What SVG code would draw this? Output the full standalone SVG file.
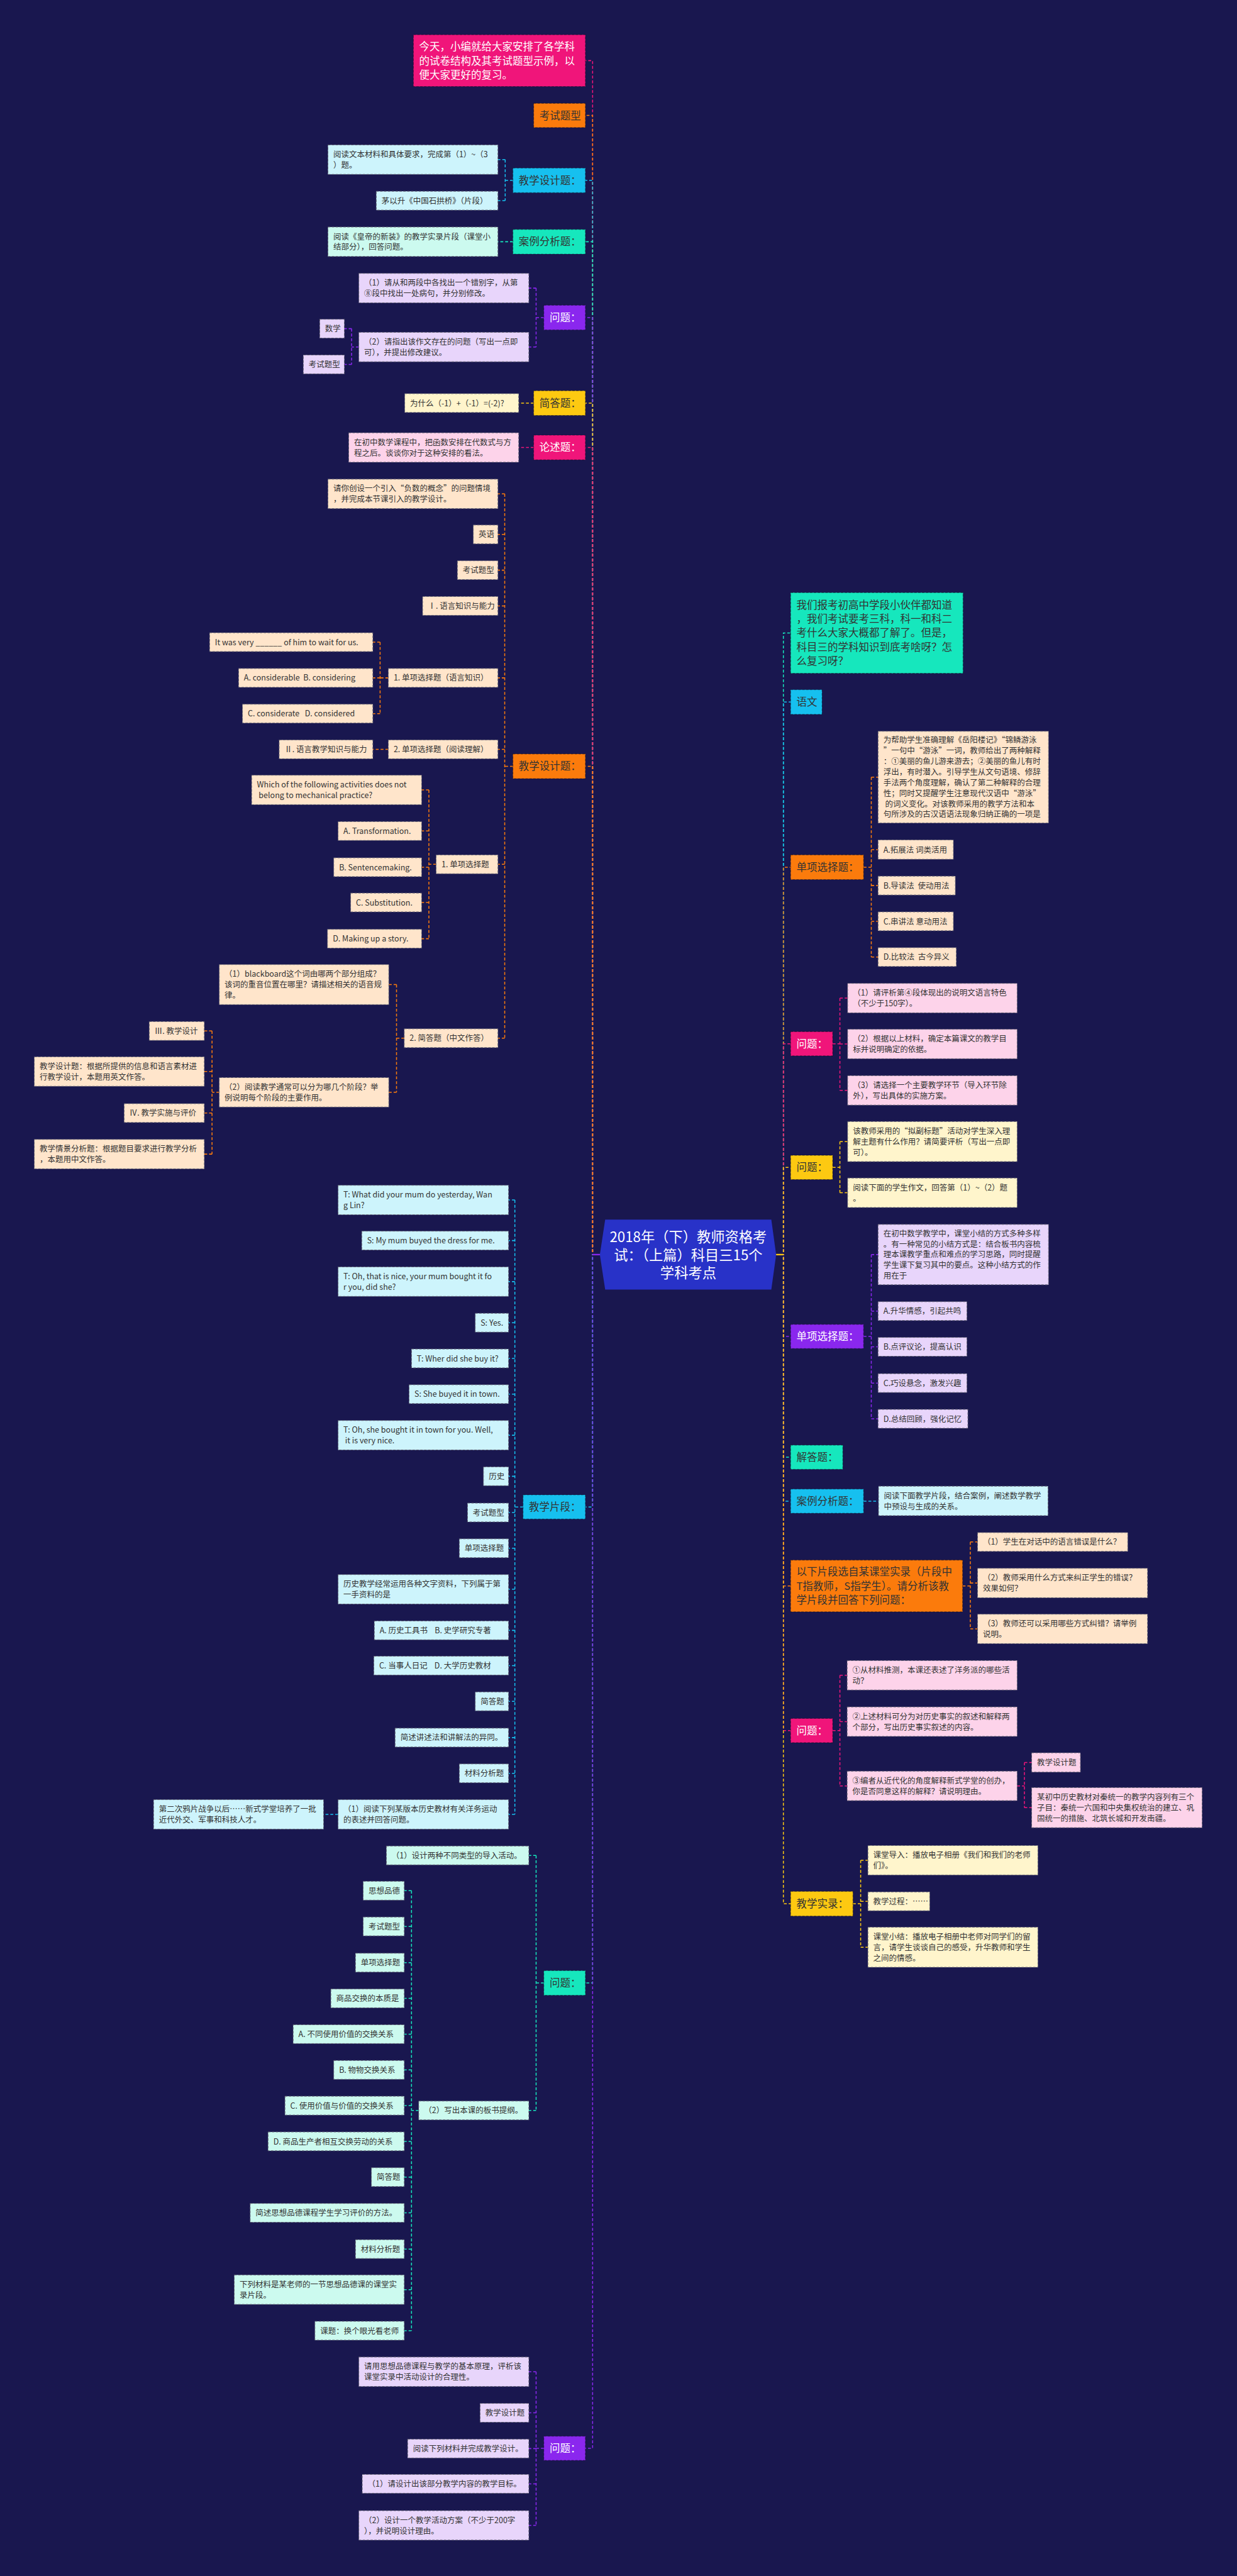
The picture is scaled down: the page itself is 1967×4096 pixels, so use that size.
<svg xmlns="http://www.w3.org/2000/svg" width="1967" height="4096" viewBox="0 0 1967 4096">
<style>
text{font-family:"Noto Sans CJK SC","Noto Sans",sans-serif;white-space:pre}
.s{font-size:16.3px;fill:#333}
.m{font-size:21.5px;fill:#333}
.w{fill:#fff}
.b{stroke:#5f5f70;stroke-width:1.3;stroke-dasharray:5 3}
.b1{stroke:rgba(0,0,0,.35);stroke-width:1.5;stroke-dasharray:5 3}
.P{fill:#f0157a}.O{fill:#fb7b0c}.C{fill:#16c0ef}.T{fill:#16e7bd}.U{fill:#8a27ee}.Y{fill:#fdc911}
.lp{fill:#fdd3ea}.lo{fill:#ffe5cb}.lc{fill:#cdf4fc}.lt{fill:#ccfaef}.lu{fill:#e8d5fb}.ly{fill:#fff5cc}
.k{fill:none;stroke-width:2;stroke-dasharray:6 4}
.kP{stroke:#f0157a}.kO{stroke:#fb7b0c}.kC{stroke:#16c0ef}.kT{stroke:#16e7bd}.kU{stroke:#8a27ee}.kY{stroke:#fdc911}
</style>
<rect width="1967" height="4096" fill="#19174f"/>
<g transform="scale(0.768)">
<g id="connectors">
<path class="k kP" d="M1242 2597.5H1227V125.5H1212"/>
<path class="k kO" d="M1242 2597.5H1227V239H1212"/>
<path class="k kC" d="M1242 2597.5H1227V373.5H1212"/>
<path class="k kT" d="M1242 2597.5H1227V500.5H1212"/>
<path class="k kU" d="M1242 2597.5H1227V657.5H1212"/>
<path class="k kY" d="M1242 2597.5H1227V834.5H1212"/>
<path class="k kP" d="M1242 2597.5H1227V926.5H1212"/>
<path class="k kO" d="M1242 2597.5H1227V1586.5H1212"/>
<path class="k kC" d="M1242 2597.5H1227V3120H1212"/>
<path class="k kT" d="M1242 2597.5H1227V4105.5H1212"/>
<path class="k kU" d="M1242 2597.5H1227V5069H1212"/>
<path class="k kT" d="M1607 2597.5H1622V1310.5H1637"/>
<path class="k kC" d="M1607 2597.5H1622V1453.5H1637"/>
<path class="k kO" d="M1607 2597.5H1622V1795.5H1637"/>
<path class="k kP" d="M1607 2597.5H1622V2161H1637"/>
<path class="k kY" d="M1607 2597.5H1622V2417H1637"/>
<path class="k kU" d="M1607 2597.5H1622V2767H1637"/>
<path class="k kT" d="M1607 2597.5H1622V3017H1637"/>
<path class="k kC" d="M1607 2597.5H1622V3108H1637"/>
<path class="k kO" d="M1607 2597.5H1622V3283.5H1637"/>
<path class="k kP" d="M1607 2597.5H1622V3583H1637"/>
<path class="k kY" d="M1607 2597.5H1622V3941.5H1637"/>
<path d="M1227 2597.5H1242" stroke="#8a27ee" stroke-width="3"/>
<path d="M1607 2597.5H1622" stroke="#fdc911" stroke-width="3"/>
<path class="k kC" d="M1062 373.5H1046M1046 330.5V415.5M1046 330.5H1031M1046 415.5H1031"/>
<path class="k kT" d="M1062 500.5H1031"/>
<path class="k kU" d="M1126 657.5H1110M1110 596.5V718.5M1110 596.5H1095M1110 718.5H1095M743 718.5H728M728 680.5V754.5M728 680.5H713M728 754.5H713"/>
<path class="k kY" d="M1105 834.5H1074"/>
<path class="k kP" d="M1105 926.5H1074"/>
<path class="k kO" d="M1062 1586.5H1045M1045 1022.5V2149.5M1045 1022.5H1031M1045 1106.5H1031M1045 1180.5H1031M1045 1254.5H1031M1045 1403.5H1031M1045 1551.5H1031M1045 1789.5H1031M1045 2149.5H1031"/>
<path class="k kO" d="M804 1403.5H787M787 1329.5V1477.5M787 1329.5H772M787 1403.5H772M787 1477.5H772M804 1551.5H772"/>
<path class="k kO" d="M903 1789.5H888M888 1635.5V1943.5M888 1635.5H873M888 1720.5H873M888 1795.5H873M888 1868.5H873M888 1943.5H873"/>
<path class="k kO" d="M837 2149.5H821M821 2038.5V2261.5M821 2038.5H805M821 2261.5H805"/>
<path class="k kO" d="M454 2261.5H439M439 2134.5V2389.5M439 2134.5H423M439 2218.5H423M439 2304.5H423M439 2389.5H423"/>
<path class="k kC" d="M1083 3120H1066M1066 2484.5V3756.5M1066 2484.5H1053M1066 2568.5H1053M1066 2653.5H1053M1066 2738.5H1053M1066 2812.5H1053M1066 2886.5H1053M1066 2971.5H1053M1066 3056.5H1053M1066 3131.5H1053M1066 3205.5H1053M1066 3290.5H1053M1066 3375.5H1053M1066 3448.5H1053M1066 3522.5H1053M1066 3597.5H1053M1066 3671.5H1053M1066 3756.5H1053M700 3756.5H670"/>
<path class="k kT" d="M1126 4105.5H1110M1110 3841.5V4369.5M1110 3841.5H1095M1110 4369.5H1095"/>
<path class="k kT" d="M867 4369.5H852M852 3914.5V4825.5M852 3914.5H837M852 3988.5H837M852 4063.5H837M852 4137.5H837M852 4211.5H837M852 4285.5H837M852 4359.5H837M852 4433.5H837M852 4507.5H837M852 4581.5H837M852 4656.5H837M852 4740.5H837M852 4825.5H837"/>
<path class="k kU" d="M1126 5069H1110M1110 4910.5V5228.5M1110 4910.5H1095M1110 4995.5H1095M1110 5069.5H1095M1110 5142.5H1095M1110 5228.5H1095"/>
<path class="k kO" d="M1788 1795.5H1804M1804 1609V1981.5M1804 1609H1818M1804 1759H1818M1804 1833.5H1818M1804 1907.5H1818M1804 1981.5H1818"/>
<path class="k kP" d="M1724 2161H1739M1739 2066.5V2257.5M1739 2066.5H1755M1739 2161.5H1755M1739 2257.5H1755"/>
<path class="k kY" d="M1724 2417H1739M1739 2363.5V2469.5M1739 2363.5H1755M1739 2469.5H1755"/>
<path class="k kU" d="M1788 2767H1804M1804 2597.5V2937.5M1804 2597.5H1818M1804 2714.5H1818M1804 2788.5H1818M1804 2863.5H1818M1804 2937.5H1818"/>
<path class="k kC" d="M1788 3108H1819"/>
<path class="k kO" d="M1993 3283.5H2009M2009 3192.5V3372.5M2009 3192.5H2024M2009 3277.5H2024M2009 3372.5H2024"/>
<path class="k kP" d="M1724 3583H1739M1739 3468.5V3697.5M1739 3468.5H1754M1739 3564.5H1754M1739 3697.5H1754M2106 3697.5H2121M2121 3649V3742.5M2121 3649H2136M2121 3742.5H2136"/>
<path class="k kY" d="M1766 3941.5H1782M1782 3851.5V4031.5M1782 3851.5H1797M1782 3936.5H1797M1782 4031.5H1797"/>
</g>

<g id="center"><polygon points="1242,2597.5 1253,2525 1597,2525 1607,2597.5 1597,2670 1253,2670" fill="#2832c8"/><text font-size="29" fill="#fff" text-anchor="middle" style="font-family:'Noto Sans CJK SC',sans-serif"><tspan x="1425" y="2571">2018年（下）教师资格考</tspan><tspan x="1425" y="2609">试：（上篇）科目三15个</tspan><tspan x="1425" y="2646">学科考点</tspan></text></g>

<g id="n-intro"><rect class="b1 P" x="856" y="72" width="356" height="107"/><text class="m w"><tspan x="868" y="104.5">今天，小编就给大家安排了各学科</tspan><tspan x="868" y="133.5">的试卷结构及其考试题型示例，以</tspan><tspan x="868" y="162.5">便大家更好的复习。</tspan></text></g>
<g id="n-kstx"><rect class="b1 O" x="1105" y="214" width="107" height="50"/><text class="m" x="1117" y="247">考试题型</text></g>

<g id="n-jxsj1"><rect class="b1 C" x="1062" y="348" width="150" height="51"/><text class="m" x="1074" y="381">教学设计题：</text></g>
<g id="n-jxsj1-a"><rect class="b lc" x="679" y="300" width="352" height="61"/><text class="s"><tspan x="690" y="325.5">阅读文本材料和具体要求，完成第（1）~（3</tspan><tspan x="690" y="347.5">）题。</tspan></text></g>
<g id="n-jxsj1-b"><rect class="b lc" x="779" y="396" width="252" height="39"/><text class="s" x="790" y="421.5">茅以升《中国石拱桥》（片段）</text></g>

<g id="n-alfx1"><rect class="b1 T" x="1062" y="475" width="150" height="51"/><text class="m" x="1074" y="508">案例分析题：</text></g>
<g id="n-alfx1-a"><rect class="b lt" x="679" y="470" width="352" height="61"/><text class="s"><tspan x="690" y="495.5">阅读《皇帝的新装》的教学实录片段（课堂小</tspan><tspan x="690" y="517.5">结部分），回答问题。</tspan></text></g>

<g id="n-wt1"><rect class="b1 U" x="1126" y="632" width="86" height="51"/><text class="m w" x="1138" y="665">问题：</text></g>
<g id="n-wt1-a"><rect class="b lu" x="743" y="566" width="352" height="61"/><text class="s"><tspan x="754" y="591.5">（1）请从和两段中各找出一个错别字，从第</tspan><tspan x="754" y="613.5">⑧段中找出一处病句，并分别修改。</tspan></text></g>
<g id="n-wt1-b"><rect class="b lu" x="743" y="688" width="352" height="61"/><text class="s"><tspan x="754" y="713.5">（2）请指出该作文存在的问题（写出一点即</tspan><tspan x="754" y="735.5">可），并提出修改建议。</tspan></text></g>
<g id="n-wt1-b1"><rect class="b lu" x="662" y="661" width="51" height="39"/><text class="s" x="673" y="686.5">数学</text></g>
<g id="n-wt1-b2"><rect class="b lu" x="628" y="735" width="85" height="39"/><text class="s" x="639" y="760.5">考试题型</text></g>

<g id="n-jdt1"><rect class="b1 Y" x="1105" y="809" width="107" height="51"/><text class="m" x="1117" y="842">简答题：</text></g>
<g id="n-jdt1-a"><rect class="b ly" x="838" y="815" width="236" height="39"/><text class="s" x="849" y="840.5">为什么（-1）+（-1）=(-2)?</text></g>

<g id="n-lst"><rect class="b1 P" x="1105" y="901" width="107" height="51"/><text class="m w" x="1117" y="934">论述题：</text></g>
<g id="n-lst-a"><rect class="b lp" x="722" y="896" width="352" height="61"/><text class="s"><tspan x="733" y="921.5">在初中数学课程中，把函数安排在代数式与方</tspan><tspan x="733" y="943.5">程之后。谈谈你对于这种安排的看法。</tspan></text></g>

<g id="n-jxsj2"><rect class="b1 O" x="1062" y="1561" width="150" height="51"/><text class="m" x="1074" y="1594">教学设计题：</text></g>
<g id="n-jxsj2-a"><rect class="b lo" x="679" y="992" width="352" height="61"/><text class="s"><tspan x="690" y="1017.5">请你创设一个引入“负数的概念”的问题情境</tspan><tspan x="690" y="1039.5">，并完成本节课引入的教学设计。</tspan></text></g>
<g id="n-jxsj2-b"><rect class="b lo" x="980" y="1087" width="51" height="39"/><text class="s" x="991" y="1112.5">英语</text></g>
<g id="n-jxsj2-c"><rect class="b lo" x="947" y="1161" width="84" height="39"/><text class="s" x="958" y="1186.5">考试题型</text></g>
<g id="n-jxsj2-d"><rect class="b lo" x="875" y="1235" width="156" height="39"/><text class="s" x="886" y="1260.5">Ⅰ. 语言知识与能力</text></g>
<g id="n-jxsj2-e"><rect class="b lo" x="804" y="1384" width="227" height="39"/><text class="s" x="815" y="1409.5">1. 单项选择题（语言知识）</text></g>
<g id="n-e1"><rect class="b lo" x="434" y="1310" width="338" height="39"/><text class="s" x="445" y="1335.5">It was very ______ of him to wait for us.</text></g>
<g id="n-e2"><rect class="b lo" x="494" y="1384" width="278" height="39"/><text class="s" x="505" y="1409.5">A. considerable  B. considering</text></g>
<g id="n-e3"><rect class="b lo" x="502" y="1458" width="270" height="39"/><text class="s" x="513" y="1483.5">C. considerate   D. considered</text></g>
<g id="n-jxsj2-f"><rect class="b lo" x="804" y="1532" width="227" height="39"/><text class="s" x="815" y="1557.5">2. 单项选择题（阅读理解）</text></g>
<g id="n-f1"><rect class="b lo" x="578" y="1532" width="194" height="39"/><text class="s" x="589" y="1557.5">Ⅱ. 语言教学知识与能力</text></g>
<g id="n-jxsj2-g"><rect class="b lo" x="903" y="1770" width="128" height="39"/><text class="s" x="914" y="1795.5">1. 单项选择题</text></g>
<g id="n-g1"><rect class="b lo" x="521" y="1605" width="352" height="61"/><text class="s"><tspan x="532" y="1630.5">Which of the following activities does not</tspan><tspan x="532" y="1652.5"> belong to mechanical practice?</tspan></text></g>
<g id="n-g2"><rect class="b lo" x="700" y="1701" width="173" height="39"/><text class="s" x="711" y="1726.5">A. Transformation.</text></g>
<g id="n-g3"><rect class="b lo" x="691" y="1776" width="182" height="39"/><text class="s" x="702" y="1801.5">B. Sentencemaking.</text></g>
<g id="n-g4"><rect class="b lo" x="726" y="1849" width="147" height="39"/><text class="s" x="737" y="1874.5">C. Substitution.</text></g>
<g id="n-g5"><rect class="b lo" x="678" y="1924" width="195" height="39"/><text class="s" x="689" y="1949.5">D. Making up a story.</text></g>
<g id="n-jxsj2-h"><rect class="b lo" x="837" y="2130" width="194" height="39"/><text class="s" x="848" y="2155.5">2. 简答题（中文作答）</text></g>
<g id="n-h1"><rect class="b lo" x="454" y="1997" width="351" height="83"/><text class="s"><tspan x="465" y="2022.5">（1）blackboard这个词由哪两个部分组成？</tspan><tspan x="465" y="2044.5">该词的重音位置在哪里？请描述相关的语音规</tspan><tspan x="465" y="2066.5">律。</tspan></text></g>
<g id="n-h2"><rect class="b lo" x="454" y="2231" width="351" height="61"/><text class="s"><tspan x="465" y="2256.5">（2）阅读教学通常可以分为哪几个阶段？举</tspan><tspan x="465" y="2278.5">例说明每个阶段的主要作用。</tspan></text></g>
<g id="n-h2a"><rect class="b lo" x="309" y="2115" width="114" height="39"/><text class="s" x="320" y="2140.5">Ⅲ. 教学设计</text></g>
<g id="n-h2b"><rect class="b lo" x="71" y="2188" width="352" height="61"/><text class="s"><tspan x="82" y="2213.5">教学设计题：根据所提供的信息和语言素材进</tspan><tspan x="82" y="2235.5">行教学设计，本题用英文作答。</tspan></text></g>
<g id="n-h2c"><rect class="b lo" x="257" y="2285" width="166" height="39"/><text class="s" x="268" y="2310.5">Ⅳ. 教学实施与评价</text></g>
<g id="n-h2d"><rect class="b lo" x="71" y="2359" width="352" height="61"/><text class="s"><tspan x="82" y="2384.5">教学情景分析题：根据题目要求进行教学分析</tspan><tspan x="82" y="2406.5">，本题用中文作答。</tspan></text></g>

<g id="n-jxpd"><rect class="b1 C" x="1083" y="3095" width="129" height="50"/><text class="m" x="1095" y="3128">教学片段：</text></g>
<g id="n-i1"><rect class="b lc" x="700" y="2454" width="353" height="61"/><text class="s"><tspan x="711" y="2479.5">T: What did your mum do yesterday, Wan</tspan><tspan x="711" y="2501.5">g Lin?</tspan></text></g>
<g id="n-i2"><rect class="b lc" x="749" y="2549" width="304" height="39"/><text class="s" x="760" y="2574.5">S: My mum buyed the dress for me.</text></g>
<g id="n-i3"><rect class="b lc" x="700" y="2623" width="353" height="61"/><text class="s"><tspan x="711" y="2648.5">T: Oh, that is nice, your mum bought it fo</tspan><tspan x="711" y="2670.5">r you, did she?</tspan></text></g>
<g id="n-i4"><rect class="b lc" x="984" y="2719" width="69" height="39"/><text class="s" x="995" y="2744.5">S: Yes.</text></g>
<g id="n-i5"><rect class="b lc" x="852" y="2793" width="201" height="39"/><text class="s" x="863" y="2818.5">T: Wher did she buy it?</text></g>
<g id="n-i6"><rect class="b lc" x="847" y="2867" width="206" height="39"/><text class="s" x="858" y="2892.5">S: She buyed it in town.</text></g>
<g id="n-i7"><rect class="b lc" x="700" y="2941" width="353" height="61"/><text class="s"><tspan x="711" y="2966.5">T: Oh, she bought it in town for you. Well,</tspan><tspan x="711" y="2988.5"> it is very nice.</tspan></text></g>
<g id="n-i8"><rect class="b lc" x="1001" y="3037" width="52" height="39"/><text class="s" x="1012" y="3062.5">历史</text></g>
<g id="n-i9"><rect class="b lc" x="968" y="3112" width="85" height="39"/><text class="s" x="979" y="3137.5">考试题型</text></g>
<g id="n-i10"><rect class="b lc" x="951" y="3186" width="102" height="39"/><text class="s" x="962" y="3211.5">单项选择题</text></g>
<g id="n-i11"><rect class="b lc" x="700" y="3260" width="353" height="61"/><text class="s"><tspan x="711" y="3285.5">历史教学经常运用各种文字资料，下列属于第</tspan><tspan x="711" y="3307.5">一手资料的是</tspan></text></g>
<g id="n-i12"><rect class="b lc" x="775" y="3356" width="278" height="39"/><text class="s" x="786" y="3381.5">A. 历史工具书    B. 史学研究专著</text></g>
<g id="n-i13"><rect class="b lc" x="774" y="3429" width="279" height="39"/><text class="s" x="785" y="3454.5">C. 当事人日记    D. 大学历史教材</text></g>
<g id="n-i14"><rect class="b lc" x="984" y="3503" width="69" height="39"/><text class="s" x="995" y="3528.5">简答题</text></g>
<g id="n-i15"><rect class="b lc" x="818" y="3578" width="235" height="39"/><text class="s" x="829" y="3603.5">简述讲述法和讲解法的异同。</text></g>
<g id="n-i16"><rect class="b lc" x="951" y="3652" width="102" height="39"/><text class="s" x="962" y="3677.5">材料分析题</text></g>
<g id="n-i17"><rect class="b lc" x="700" y="3726" width="353" height="61"/><text class="s"><tspan x="711" y="3751.5">（1）阅读下列某版本历史教材有关洋务运动</tspan><tspan x="711" y="3773.5">的表述并回答问题。</tspan></text></g>
<g id="n-i17a"><rect class="b lc" x="318" y="3726" width="352" height="61"/><text class="s"><tspan x="329" y="3751.5">第二次鸦片战争以后……新式学堂培养了一批</tspan><tspan x="329" y="3773.5">近代外交、军事和科技人才。</tspan></text></g>

<g id="n-wt2"><rect class="b1 T" x="1126" y="4080" width="86" height="51"/><text class="m" x="1138" y="4113">问题：</text></g>
<g id="n-j1"><rect class="b lt" x="800" y="3822" width="295" height="39"/><text class="s" x="811" y="3847.5">（1）设计两种不同类型的导入活动。</text></g>
<g id="n-j2"><rect class="b lt" x="867" y="4350" width="228" height="39"/><text class="s" x="878" y="4375.5">（2）写出本课的板书提纲。</text></g>
<g id="n-j2a"><rect class="b lt" x="752" y="3895" width="85" height="39"/><text class="s" x="763" y="3920.5">思想品德</text></g>
<g id="n-j2b"><rect class="b lt" x="752" y="3969" width="85" height="39"/><text class="s" x="763" y="3994.5">考试题型</text></g>
<g id="n-j2c"><rect class="b lt" x="736" y="4044" width="101" height="39"/><text class="s" x="747" y="4069.5">单项选择题</text></g>
<g id="n-j2d"><rect class="b lt" x="685" y="4118" width="152" height="39"/><text class="s" x="696" y="4143.5">商品交换的本质是</text></g>
<g id="n-j2e"><rect class="b lt" x="607" y="4192" width="230" height="39"/><text class="s" x="618" y="4217.5">A. 不同使用价值的交换关系</text></g>
<g id="n-j2f"><rect class="b lt" x="691" y="4266" width="146" height="39"/><text class="s" x="702" y="4291.5">B. 物物交换关系</text></g>
<g id="n-j2g"><rect class="b lt" x="590" y="4340" width="247" height="39"/><text class="s" x="601" y="4365.5">C. 使用价值与价值的交换关系</text></g>
<g id="n-j2h"><rect class="b lt" x="555" y="4414" width="282" height="39"/><text class="s" x="566" y="4439.5">D. 商品生产者相互交换劳动的关系</text></g>
<g id="n-j2i"><rect class="b lt" x="769" y="4488" width="68" height="39"/><text class="s" x="780" y="4513.5">简答题</text></g>
<g id="n-j2j"><rect class="b lt" x="518" y="4562" width="319" height="39"/><text class="s" x="529" y="4587.5">简述思想品德课程学生学习评价的方法。</text></g>
<g id="n-j2k"><rect class="b lt" x="736" y="4637" width="101" height="39"/><text class="s" x="747" y="4662.5">材料分析题</text></g>
<g id="n-j2l"><rect class="b lt" x="485" y="4710" width="352" height="61"/><text class="s"><tspan x="496" y="4735.5">下列材料是某老师的一节思想品德课的课堂实</tspan><tspan x="496" y="4757.5">录片段。</tspan></text></g>
<g id="n-j2m"><rect class="b lt" x="652" y="4806" width="185" height="39"/><text class="s" x="663" y="4831.5">课题：换个眼光看老师</text></g>

<g id="n-wt3"><rect class="b1 U" x="1126" y="5044" width="86" height="50"/><text class="m w" x="1138" y="5077">问题：</text></g>
<g id="n-k1"><rect class="b lu" x="743" y="4880" width="352" height="61"/><text class="s"><tspan x="754" y="4905.5">请用思想品德课程与教学的基本原理，评析该</tspan><tspan x="754" y="4927.5">课堂实录中活动设计的合理性。</tspan></text></g>
<g id="n-k2"><rect class="b lu" x="994" y="4976" width="101" height="39"/><text class="s" x="1005" y="5001.5">教学设计题</text></g>
<g id="n-k3"><rect class="b lu" x="844" y="5050" width="251" height="39"/><text class="s" x="855" y="5075.5">阅读下列材料并完成教学设计。</text></g>
<g id="n-k4"><rect class="b lu" x="750" y="5123" width="345" height="39"/><text class="s" x="761" y="5148.5">（1）请设计出该部分教学内容的教学目标。</text></g>
<g id="n-k5"><rect class="b lu" x="743" y="5198" width="352" height="61"/><text class="s"><tspan x="754" y="5223.5">（2）设计一个教学活动方案（不少于200字</tspan><tspan x="754" y="5245.5">），并说明设计理由。</tspan></text></g>

<g id="n-r1"><rect class="b1 T" x="1637" y="1227" width="357" height="167"/><text class="m"><tspan x="1649" y="1260.3">我们报考初高中学段小伙伴都知道</tspan><tspan x="1649" y="1289.3">，我们考试要考三科，科一和科二</tspan><tspan x="1649" y="1318.3">考什么大家大概都了解了。但是，</tspan><tspan x="1649" y="1347.3">科目三的学科知识到底考啥呀？怎</tspan><tspan x="1649" y="1376.3">么复习呀？</tspan></text></g>
<g id="n-r2"><rect class="b1 C" x="1637" y="1428" width="65" height="51"/><text class="m" x="1649" y="1461">语文</text></g>
<g id="n-r3"><rect class="b1 O" x="1637" y="1770" width="151" height="51"/><text class="m" x="1649" y="1803">单项选择题：</text></g>
<g id="n-r3a"><rect class="b lo" x="1818" y="1514" width="353" height="190"/><text class="s"><tspan x="1829" y="1538">为帮助学生准确理解《岳阳楼记》“锦鳞游泳</tspan><tspan x="1829" y="1560">”一句中“游泳”一词，教师给出了两种解释</tspan><tspan x="1829" y="1582">：①美丽的鱼儿游来游去；②美丽的鱼儿有时</tspan><tspan x="1829" y="1604">浮出，有时潜入。引导学生从文句语境、修辞</tspan><tspan x="1829" y="1626">手法两个角度理解，确认了第二种解释的合理</tspan><tspan x="1829" y="1648">性；同时又提醒学生注意现代汉语中“游泳”</tspan><tspan x="1829" y="1670"> 的词义变化。对该教师采用的教学方法和本</tspan><tspan x="1829" y="1692">句所涉及的古汉语语法现象归纳正确的一项是</tspan></text></g>
<g id="n-r3b"><rect class="b lo" x="1818" y="1739" width="156" height="40"/><text class="s" x="1829" y="1765">A.拓展法 词类活用</text></g>
<g id="n-r3c"><rect class="b lo" x="1818" y="1814" width="160" height="39"/><text class="s" x="1829" y="1839.5">B.导读法  使动用法</text></g>
<g id="n-r3d"><rect class="b lo" x="1818" y="1888" width="156" height="39"/><text class="s" x="1829" y="1913.5">C.串讲法 意动用法</text></g>
<g id="n-r3e"><rect class="b lo" x="1818" y="1962" width="162" height="39"/><text class="s" x="1829" y="1987.5">D.比较法  古今异义</text></g>

<g id="n-r4"><rect class="b1 P" x="1637" y="2136" width="87" height="50"/><text class="m w" x="1649" y="2169">问题：</text></g>
<g id="n-r4a"><rect class="b lp" x="1755" y="2036" width="351" height="61"/><text class="s"><tspan x="1766" y="2061.5">（1）请评析第④段体现出的说明文语言特色</tspan><tspan x="1766" y="2083.5">（不少于150字）。</tspan></text></g>
<g id="n-r4b"><rect class="b lp" x="1755" y="2131" width="351" height="61"/><text class="s"><tspan x="1766" y="2156.5">（2）根据以上材料，确定本篇课文的教学目</tspan><tspan x="1766" y="2178.5">标并说明确定的依据。</tspan></text></g>
<g id="n-r4c"><rect class="b lp" x="1755" y="2227" width="351" height="61"/><text class="s"><tspan x="1766" y="2252.5">（3）请选择一个主要教学环节（导入环节除</tspan><tspan x="1766" y="2274.5">外），写出具体的实施方案。</tspan></text></g>

<g id="n-r5"><rect class="b1 Y" x="1637" y="2392" width="87" height="50"/><text class="m" x="1649" y="2425">问题：</text></g>
<g id="n-r5a"><rect class="b ly" x="1755" y="2322" width="351" height="83"/><text class="s"><tspan x="1766" y="2347.5">该教师采用的“拟副标题”活动对学生深入理</tspan><tspan x="1766" y="2369.5">解主题有什么作用？请简要评析（写出一点即</tspan><tspan x="1766" y="2391.5">可）。</tspan></text></g>
<g id="n-r5b"><rect class="b ly" x="1755" y="2439" width="351" height="61"/><text class="s"><tspan x="1766" y="2464.5">阅读下面的学生作文，回答第（1）~（2）题</tspan><tspan x="1766" y="2486.5">。</tspan></text></g>

<g id="n-r6"><rect class="b1 U" x="1637" y="2742" width="151" height="50"/><text class="m w" x="1649" y="2775">单项选择题：</text></g>
<g id="n-r6a"><rect class="b lu" x="1818" y="2535" width="353" height="125"/><text class="s"><tspan x="1829" y="2559.5">在初中数学教学中，课堂小结的方式多种多样</tspan><tspan x="1829" y="2581.5">。有一种常见的小结方式是：结合板书内容梳</tspan><tspan x="1829" y="2603.5">理本课教学重点和难点的学习思路，同时提醒</tspan><tspan x="1829" y="2625.5">学生课下复习其中的要点。这种小结方式的作</tspan><tspan x="1829" y="2647.5">用在于</tspan></text></g>
<g id="n-r6b"><rect class="b lu" x="1818" y="2695" width="184" height="39"/><text class="s" x="1829" y="2720.5">A.升华情感，引起共鸣</text></g>
<g id="n-r6c"><rect class="b lu" x="1818" y="2769" width="184" height="39"/><text class="s" x="1829" y="2794.5">B.点评议论，提高认识</text></g>
<g id="n-r6d"><rect class="b lu" x="1818" y="2844" width="184" height="39"/><text class="s" x="1829" y="2869.5">C.巧设悬念，激发兴趣</text></g>
<g id="n-r6e"><rect class="b lu" x="1818" y="2918" width="186" height="39"/><text class="s" x="1829" y="2943.5">D.总结回顾，强化记忆</text></g>

<g id="n-r7"><rect class="b1 T" x="1637" y="2992" width="108" height="50"/><text class="m" x="1649" y="3025">解答题：</text></g>
<g id="n-r8"><rect class="b1 C" x="1637" y="3083" width="151" height="50"/><text class="m" x="1649" y="3116">案例分析题：</text></g>
<g id="n-r8a"><rect class="b lc" x="1819" y="3077" width="351" height="61"/><text class="s"><tspan x="1830" y="3102.5">阅读下面教学片段，结合案例，阐述数学教学</tspan><tspan x="1830" y="3124.5">中预设与生成的关系。</tspan></text></g>

<g id="n-r9"><rect class="b1 O" x="1637" y="3230" width="356" height="107"/><text class="m"><tspan x="1649" y="3262.3">以下片段选自某课堂实录（片段中</tspan><tspan x="1649" y="3291.3">T指教师，S指学生）。请分析该教</tspan><tspan x="1649" y="3320.3">学片段并回答下列问题：</tspan></text></g>
<g id="n-r9a"><rect class="b lo" x="2024" y="3173" width="311" height="39"/><text class="s" x="2035" y="3198.5">（1）学生在对话中的语言错误是什么？</text></g>
<g id="n-r9b"><rect class="b lo" x="2024" y="3247" width="352" height="61"/><text class="s"><tspan x="2035" y="3272.5">（2）教师采用什么方式来纠正学生的错误？</tspan><tspan x="2035" y="3294.5">效果如何？</tspan></text></g>
<g id="n-r9c"><rect class="b lo" x="2024" y="3342" width="352" height="61"/><text class="s"><tspan x="2035" y="3367.5">（3）教师还可以采用哪些方式纠错？请举例</tspan><tspan x="2035" y="3389.5">说明。</tspan></text></g>

<g id="n-r10"><rect class="b1 P" x="1637" y="3558" width="87" height="50"/><text class="m w" x="1649" y="3591">问题：</text></g>
<g id="n-r10a"><rect class="b lp" x="1754" y="3438" width="352" height="61"/><text class="s"><tspan x="1765" y="3463.5">①从材料推测，本课还表述了洋务派的哪些活</tspan><tspan x="1765" y="3485.5">动？</tspan></text></g>
<g id="n-r10b"><rect class="b lp" x="1754" y="3534" width="352" height="61"/><text class="s"><tspan x="1765" y="3559.5">②上述材料可分为对历史事实的叙述和解释两</tspan><tspan x="1765" y="3581.5">个部分，写出历史事实叙述的内容。</tspan></text></g>
<g id="n-r10c"><rect class="b lp" x="1754" y="3667" width="352" height="61"/><text class="s"><tspan x="1765" y="3692.5">③编者从近代化的角度解释新式学堂的创办，</tspan><tspan x="1765" y="3714.5">你是否同意这样的解释？请说明理由。</tspan></text></g>
<g id="n-r10c1"><rect class="b lp" x="2136" y="3629" width="101" height="40"/><text class="s" x="2147" y="3655">教学设计题</text></g>
<g id="n-r10c2"><rect class="b lp" x="2136" y="3701" width="353" height="83"/><text class="s"><tspan x="2147" y="3726.5">某初中历史教材对秦统一的教学内容列有三个</tspan><tspan x="2147" y="3748.5">子目：秦统一六国和中央集权统治的建立、巩</tspan><tspan x="2147" y="3770.5">固统一的措施、北筑长城和开发南疆。</tspan></text></g>

<g id="n-r11"><rect class="b1 Y" x="1637" y="3916" width="129" height="51"/><text class="m" x="1649" y="3949">教学实录：</text></g>
<g id="n-r11a"><rect class="b ly" x="1797" y="3821" width="352" height="61"/><text class="s"><tspan x="1808" y="3846.5">课堂导入：播放电子相册《我们和我们的老师</tspan><tspan x="1808" y="3868.5">们》。</tspan></text></g>
<g id="n-r11b"><rect class="b ly" x="1797" y="3917" width="128" height="39"/><text class="s" x="1808" y="3942.5">教学过程：……</text></g>
<g id="n-r11c"><rect class="b ly" x="1797" y="3990" width="352" height="83"/><text class="s"><tspan x="1808" y="4015.5">课堂小结：播放电子相册中老师对同学们的留</tspan><tspan x="1808" y="4037.5">言，请学生谈谈自己的感受，升华教师和学生</tspan><tspan x="1808" y="4059.5">之间的情感。</tspan></text></g>
</g>
</svg>
